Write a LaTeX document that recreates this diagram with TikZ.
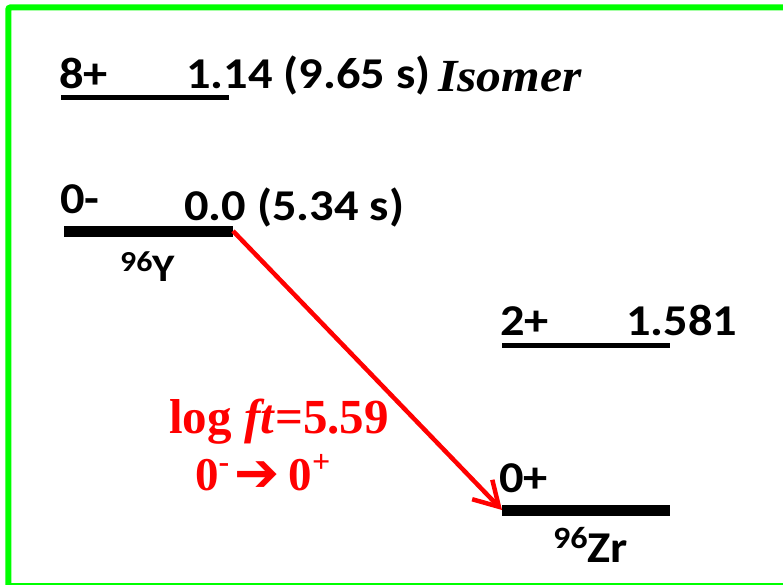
\documentclass[tikz,border=0pt]{standalone}
\usepackage{fontspec}
\setmainfont{Carlito}
\newfontfamily\tnr{Liberation Serif}
\newfontfamily\djv{DejaVu Sans}
\usetikzlibrary{arrows.meta}
\definecolor{pgreen}{RGB}{0,255,0}
\definecolor{pred}{RGB}{255,0,0}
\newcommand{\widetxt}[1]{\scalebox{1.1}[1]{#1}}
\begin{document}
\begin{tikzpicture}[x=1pt,y=-1pt,
  lbl/.style={inner sep=0pt, anchor=base west, font=\bfseries\fontsize{44}{44}\selectfont},
  rlbl/.style={inner sep=0pt, anchor=base west, text=pred, font=\tnr\bfseries\fontsize{49}{49}\selectfont},
  thinlevel/.style={line width=5pt, line cap=butt},
  thicklevel/.style={line width=11pt, line cap=butt},
  decay/.style={pred, line width=4.5pt, -{Straight Barb[length=24pt, width=28pt]}}
 ]
\useasboundingbox (0,0) rectangle (783,585);
\clip (0,0) rectangle (783,585);
\fill[white] (0,0) rectangle (783,585);
\draw[pgreen, line width=6pt, rounded corners=2pt] (8.3,7.5) rectangle (792,586);

% level lines
\coordinate (i8a) at (61,98);  \coordinate (i8b) at (229,98);
\coordinate (y0a) at (64,231); \coordinate (y0b) at (233,231);
\coordinate (z2a) at (502,345); \coordinate (z2b) at (670,345);
\coordinate (z0a) at (502,510); \coordinate (z0b) at (670,510);
\draw[thinlevel] (i8a) -- (i8b);
\draw[thicklevel] (y0a) -- (y0b);
\draw[thinlevel] (z2a) -- (z2b);
\draw[thicklevel] (z0a) -- (z0b);

% decay arrow
\draw[decay] (y0b) -- (z0a);

% labels
\node[lbl] (s8) at (59,89) {\widetxt{8+}};
\node[lbl] (e8) at (186,89) {\widetxt{1.14 (9.65 s)}};
\node[inner sep=0pt, anchor=base west, font=\tnr\bfseries\itshape\fontsize{46}{46}\selectfont] (iso) at (438,92) {\scalebox{1.08}[1]{Isomer}};
\node[lbl] (s0) at (60,214) {\widetxt{0-}};
\node[lbl] (e0) at (184,220) {\widetxt{0.0 (5.34 s)}};
\node[inner sep=0pt, anchor=base west, font=\bfseries] (ny) at (120,281) {\widetxt{\fontsize{29}{29}\selectfont\raisebox{10pt}{96}\fontsize{39}{39}\selectfont Y}};
\node[lbl] (s2) at (500,335) {\widetxt{2+}};
\node[lbl] (e2) at (626,335) {\widetxt{1.581}};
\node[lbl] (s0z) at (499,492) {\widetxt{0+}};
\node[inner sep=0pt, anchor=base west, font=\bfseries] (nzr) at (553,562) {\widetxt{\fontsize{31}{31}\selectfont\raisebox{14pt}{96}\fontsize{44}{44}\selectfont Zr}};

\node[rlbl] (lft) at (169,433) {log \textit{ft}=5.59};
\node[rlbl, font=\tnr\bfseries\fontsize{47}{47}\selectfont] (spin) at (195,490) {0\raisebox{18pt}{\fontsize{32}{32}\selectfont -}\hspace{5pt}\raisebox{-1pt}{\djv\bfseries\fontsize{54}{54}\selectfont ➔}\hspace{9pt}0\raisebox{18pt}{\fontsize{32}{32}\selectfont +}};
\end{tikzpicture}
\end{document}
